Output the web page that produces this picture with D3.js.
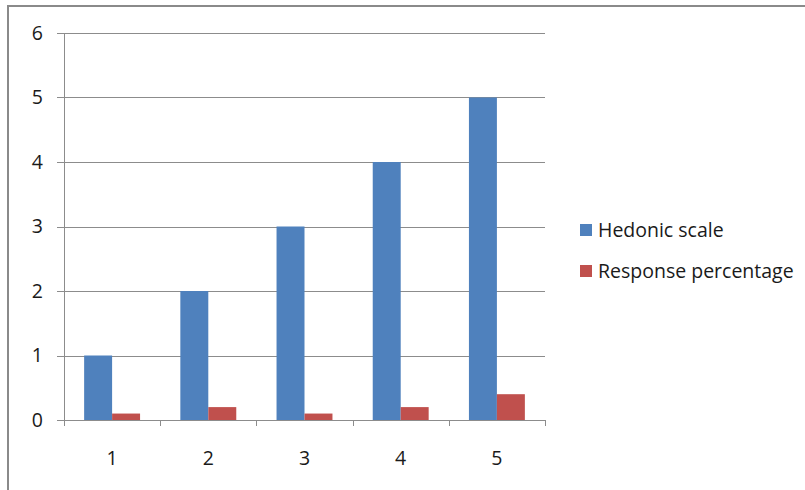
<!DOCTYPE html>
<html><head><meta charset="utf-8">
<script src="https://cdn.jsdelivr.net/npm/d3@7"></script>
<style>body{margin:0;background:#fff;}svg{display:block;}</style>
</head><body>
<svg id="c" width="805" height="490"></svg>
<script>
const categories = ["1","2","3","4","5"];
const seriesNames = ["Hedonic scale","Response percentage"];
const hedonic = [1,2,3,4,5];
const response = [0.1,0.2,0.1,0.2,0.4];
const yTicks = [0,1,2,3,4,5,6];
const colors = ["#4F81BD","#C0504D"];

const svg = d3.select("#c");
const font = "'Open Sans', 'Liberation Sans', sans-serif";
// outer frame
svg.append("line").attr("x1",7).attr("x2",805).attr("y1",6).attr("y2",6).attr("stroke","#8a8a8a").attr("stroke-width",2);
svg.append("line").attr("x1",8).attr("x2",8).attr("y1",5).attr("y2",490).attr("stroke","#8a8a8a").attr("stroke-width",2);

const L=64, R=545, T=33, B=420;
const x = d3.scaleBand().domain(categories).range([L,R]);
const y = d3.scaleLinear().domain([0,6]).range([B,T]);
const inner = d3.scaleBand().domain(seriesNames).range([0,x.bandwidth()]).paddingInner(0).paddingOuter(0.72);

// gridlines
svg.append("g").selectAll("line").data(yTicks).join("line")
  .attr("x1",L-7).attr("x2",R).attr("y1",d=>Math.round(y(d))+0.5).attr("y2",d=>Math.round(y(d))+0.5)
  .attr("stroke","#8c8c8c").attr("stroke-width",1);
// y labels
svg.append("g").selectAll("text").data(yTicks).join("text")
  .attr("x",43).attr("y",d=>y(d)).attr("dy","0.35em").attr("text-anchor","end")
  .attr("font-family",font).attr("font-size",19.5).attr("fill","#1a1a1a").text(d=>d);

// bars
const data = categories.map((c,i)=>({c, vals:[hedonic[i],response[i]]}));
const g = svg.append("g");
data.forEach(d=>{
  d.vals.forEach((v,j)=>{
    g.append("rect").attr("x",x(d.c)+inner(seriesNames[j])).attr("width",inner.bandwidth())
      .attr("y",y(v)).attr("height",y(0)-y(v)).attr("fill",colors[j]);
  });
});

// y axis line
svg.append("line").attr("x1",L+0.5).attr("x2",L+0.5).attr("y1",T).attr("y2",B+6).attr("stroke","#8c8c8c");
// x axis line
svg.append("line").attr("x1",L).attr("x2",R).attr("y1",B+0.5).attr("y2",B+0.5).attr("stroke","#8c8c8c");
// x ticks at band boundaries
const bounds = categories.map(c=>x(c)).concat([R]);
svg.append("g").selectAll("line").data(bounds).join("line")
  .attr("x1",d=>Math.round(d)+0.5).attr("x2",d=>Math.round(d)+0.5).attr("y1",B).attr("y2",B+6).attr("stroke","#8c8c8c");
// x labels
svg.append("g").selectAll("text").data(categories).join("text")
  .attr("x",d=>x(d)+x.bandwidth()/2).attr("y",458).attr("dy","0.35em").attr("text-anchor","middle")
  .attr("font-family",font).attr("font-size",19.5).attr("fill","#1a1a1a").text(d=>d);

// legend
const lg = svg.append("g");
seriesNames.forEach((s,i)=>{
  const yy = 230 + i*41;
  lg.append("rect").attr("x",580).attr("y",yy-6).attr("width",12).attr("height",12).attr("fill",colors[i]);
  lg.append("text").attr("x",598).attr("y",yy).attr("dy","0.35em")
    .attr("font-family",font).attr("font-size",19.5).attr("fill","#1a1a1a").text(s);
});
</script>
</body></html>
